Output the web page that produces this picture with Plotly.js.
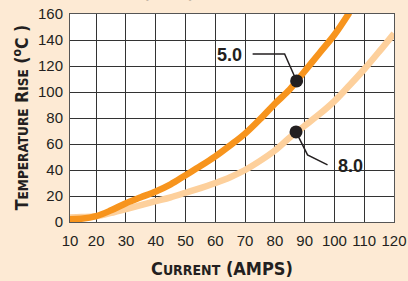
<!DOCTYPE html>
<html><head><meta charset="utf-8">
<script src="https://cdn.plot.ly/plotly-3.0.1.min.js"></script>
<style>html,body{margin:0;padding:0;background:#FDEAD4;}#chart{width:408px;height:281px;}</style>
</head><body><div id="chart"></div>
<script>
// Series "5.0" (dark orange)
const x50 = [10,15,20,25,30,35,40,45,50,55,60,65,70,75,80,85,90,95,100,105];
const y50 = [2,2.5,4.5,9,14.5,19,23.5,29,36,43,50.5,59,68,79,91,102,116,130,144,161];
// Series "8.0" (light orange)
const x80 = [10,15,20,25,30,35,40,45,50,55,60,65,70,75,80,85,90,95,100,105,110,115,120];
const y80 = [3.5,3.8,4.5,7,10,13,16,19,22.5,26,30,34.5,40,47,55,65,74,83,93,105,117.5,131,145];
// Marked points and their labels
const markX = [87.3, 87.1];
const markY = [108.5, 69.3];
const markLabels = ['5.0', '8.0'];
// Axis ticks
const xTickVals = [11.2,20,30,40,50,60,70,80,90,100,110,120];
const xTickText = ['10','20','30','40','50','60','70','80','90','100','110','120'];
const yTickVals = [0,20,40,60,80,100,120,140,160];

const dark = '#231f20';
const narrow = '"Liberation Sans Narrow", "DejaVu Sans Condensed", "Liberation Sans", Arial, sans-serif';

const traces = [
  {x: x80, y: y80, mode: 'lines', line: {color: '#FDD09C', width: 6.5, shape: 'spline'}, hoverinfo: 'skip'},
  {x: x50, y: y50, mode: 'lines', line: {color: '#F7941D', width: 6.5, shape: 'spline'}, hoverinfo: 'skip'},
  {x: markX, y: markY, mode: 'markers', marker: {color: dark, size: 13}, hoverinfo: 'skip'}
];

const layout = {
  width: 408, height: 281,
  margin: {l: 70, r: 14, t: 14, b: 59},
  paper_bgcolor: '#FDEAD4',
  plot_bgcolor: '#FFFFFF',
  showlegend: false,
  font: {family: '"Liberation Sans", Arial, sans-serif', color: dark},
  xaxis: {
    range: [11.2, 120], tickvals: xTickVals, ticktext: xTickText,
    showgrid: true, gridcolor: '#333333', gridwidth: 1,
    zeroline: false, showline: true, linecolor: '#555', linewidth: 1, mirror: true,
    ticks: '', tickfont: {size: 15, color: dark}, ticklabelstandoff: 5
  },
  yaxis: {
    range: [0, 160], tickvals: yTickVals,
    showgrid: true, gridcolor: '#333333', gridwidth: 1,
    zeroline: false, showline: true, linecolor: '#555', linewidth: 1, mirror: true,
    ticks: '', tickfont: {size: 15, color: dark}, ticklabelstandoff: 3
  },
  shapes: [
    {type: 'path', xref: 'x', yref: 'y', xsizemode: 'pixel', ysizemode: 'pixel',
     xanchor: markX[0], yanchor: markY[0], path: 'M 0 0 L -12 27 L -44 27',
     line: {color: dark, width: 1.5}},
    {type: 'path', xref: 'x', yref: 'y', xsizemode: 'pixel', ysizemode: 'pixel',
     xanchor: markX[1], yanchor: markY[1], path: 'M 0 0 L 11.5 -23 L 31.5 -33',
     line: {color: dark, width: 1.5}}
  ],
  annotations: [
    {x: markX[0], y: markY[0], xref: 'x', yref: 'y', text: '<b>' + markLabels[0] + '</b>', showarrow: false,
     xshift: -67, yshift: 26, font: {size: 18, color: dark}},
    {x: markX[1], y: markY[1], xref: 'x', yref: 'y', text: '<b>' + markLabels[1] + '</b>', showarrow: false,
     xshift: 54, yshift: -34, font: {size: 18, color: dark}},
    {xref: 'paper', yref: 'paper', x: -0.151, y: 0.504, xanchor: 'center', yanchor: 'middle', textangle: -90, showarrow: false,
     text: '<b>T<span style="font-size:13.5px">EMPERATURE</span> R<span style="font-size:13.5px">ISE</span> (<sup>o</sup>C )</b>',
     font: {family: narrow, size: 17.5, color: dark}},
    {xref: 'paper', yref: 'paper', x: 0.47, y: -0.222, xanchor: 'center', yanchor: 'middle', showarrow: false,
     text: '<b>C<span style="font-size:14px">URRENT</span> (AMPS)</b>',
     font: {family: narrow, size: 18, color: dark}},
    {xref: 'paper', yref: 'paper', x: 0.42, y: 1.0, xanchor: 'center', yanchor: 'bottom', yshift: 10, showarrow: false,
     text: '<b>(AWG) vs AMPS</b>', font: {family: narrow, size: 16, color: dark}}
  ]
};

Plotly.newPlot('chart', traces, layout, {staticPlot: true, displayModeBar: false});
</script></body></html>
